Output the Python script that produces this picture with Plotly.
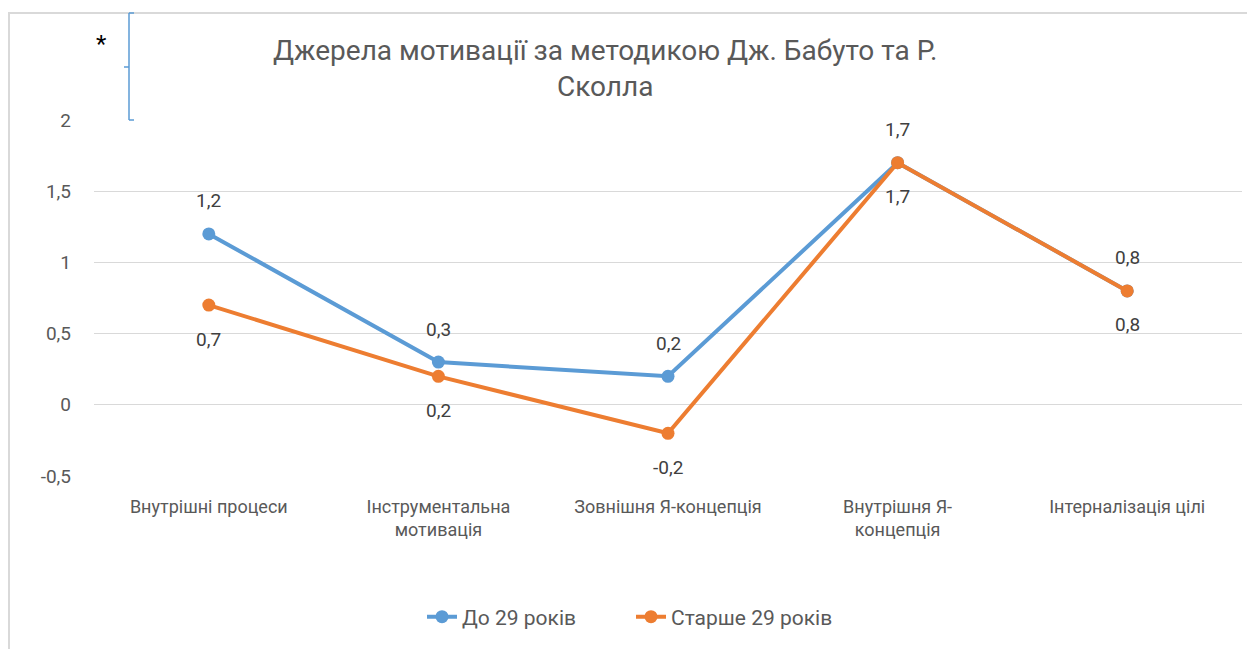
import plotly.graph_objects as go

categories = ["Внутрішні процеси", "Інструментальна<br>мотивація", "Зовнішня Я-концепція",
              "Внутрішня Я-<br>концепція", "Інтерналізація цілі"]
series_names = ["До 29 років", "Старше 29 років"]
young = [1.2, 0.3, 0.2, 1.7, 0.8]
older = [0.7, 0.2, -0.2, 1.7, 0.8]
y_ticks = [-0.5, 0, 0.5, 1, 1.5, 2]
y_tick_labels = ["-0,5", "0", "0,5", "1", "1,5", "2"]

OFF = 8  # page body margin
W, H = 1255 - OFF, 649 - OFF
L, R, T, B = 94 - OFF, 21 - OFF, 120 - OFF, 173
PW, PH = W - L - R, H - T - B

def px(x):
    return (x - OFF - L) / PW

def py(y):
    return (H - B - (y - OFF)) / PH

fmt = lambda v: f"{v:.1f}".replace(".", ",")
FONT = "Roboto"
xs = list(range(len(categories)))

fig = go.Figure()
fig.add_trace(go.Scatter(
    x=xs, y=young, name=series_names[0], mode="lines+markers",
    line=dict(color="#5B9BD5", width=4), marker=dict(size=13, color="#5B9BD5")))
fig.add_trace(go.Scatter(
    x=xs, y=older, name=series_names[1], mode="lines+markers",
    line=dict(color="#ED7D31", width=4), marker=dict(size=13, color="#ED7D31")))

annotations = []
for x, v in zip(xs, young):
    annotations.append(dict(x=x, y=v, xref="x", yref="y", text=fmt(v), showarrow=False,
                            yshift=33, font=dict(size=19, color="#404040", family=FONT)))
for x, v in zip(xs, older):
    annotations.append(dict(x=x, y=v, xref="x", yref="y", text=fmt(v), showarrow=False,
                            yshift=-34, font=dict(size=19, color="#404040", family=FONT)))

annotations += [
    dict(text="Джерела мотивації за методикою Дж. Бабуто та Р.<br>Сколла",
         x=px(605), y=py(68), xref="paper", yref="paper", showarrow=False,
         xanchor="center", yanchor="middle",
         font=dict(size=28, color="#595959", family=FONT), align="center"),
    dict(text="*", x=px(101), y=py(44), xref="paper", yref="paper", showarrow=False,
         xanchor="center", yanchor="middle",
         font=dict(size=24, color="#000000", family=FONT)),
]

blue = dict(color="#5B9BD5", width=1.5)
fig.update_layout(
    width=W, height=H,
    margin=dict(l=L, r=R, t=T, b=B, autoexpand=False),
    paper_bgcolor="white", plot_bgcolor="white",
    font=dict(family=FONT, color="#595959", size=18),
    showlegend=True,
    legend=dict(orientation="h", x=px(631), xanchor="center", y=py(617), yanchor="middle",
                entrywidth=164, entrywidthmode="pixels",
                font=dict(size=21, color="#595959", family=FONT)),
    xaxis=dict(range=[-0.5, 4.5], tickvals=xs, ticktext=categories,
               showgrid=False, zeroline=False, showline=False, ticks="",
               ticklabelstandoff=18,
               tickfont=dict(size=18, color="#595959", family=FONT), fixedrange=True),
    yaxis=dict(range=[-0.5, 2], tickvals=y_ticks, ticktext=y_tick_labels,
               showgrid=True, gridcolor="#D9D9D9", gridwidth=1, zeroline=False,
               showline=False, ticks="", ticklabelstandoff=22,
               tickfont=dict(size=19, color="#595959", family=FONT), fixedrange=True),
    annotations=annotations,
    shapes=[
        dict(type="rect", xref="paper", yref="paper", x0=px(9), x1=px(1270), y0=py(670), y1=py(13),
             line=dict(color="#D9D9D9", width=2), fillcolor="rgba(0,0,0,0)", layer="below"),
        dict(type="line", xref="paper", yref="paper", x0=px(129), x1=px(129), y0=py(13), y1=py(120), line=blue),
        dict(type="line", xref="paper", yref="paper", x0=px(129), x1=px(134), y0=py(13), y1=py(13), line=blue),
        dict(type="line", xref="paper", yref="paper", x0=px(129), x1=px(134), y0=py(120), y1=py(120), line=blue),
        dict(type="line", xref="paper", yref="paper", x0=px(124), x1=px(129), y0=py(67), y1=py(67), line=blue),
    ],
)

fig.write_html("out.html")
